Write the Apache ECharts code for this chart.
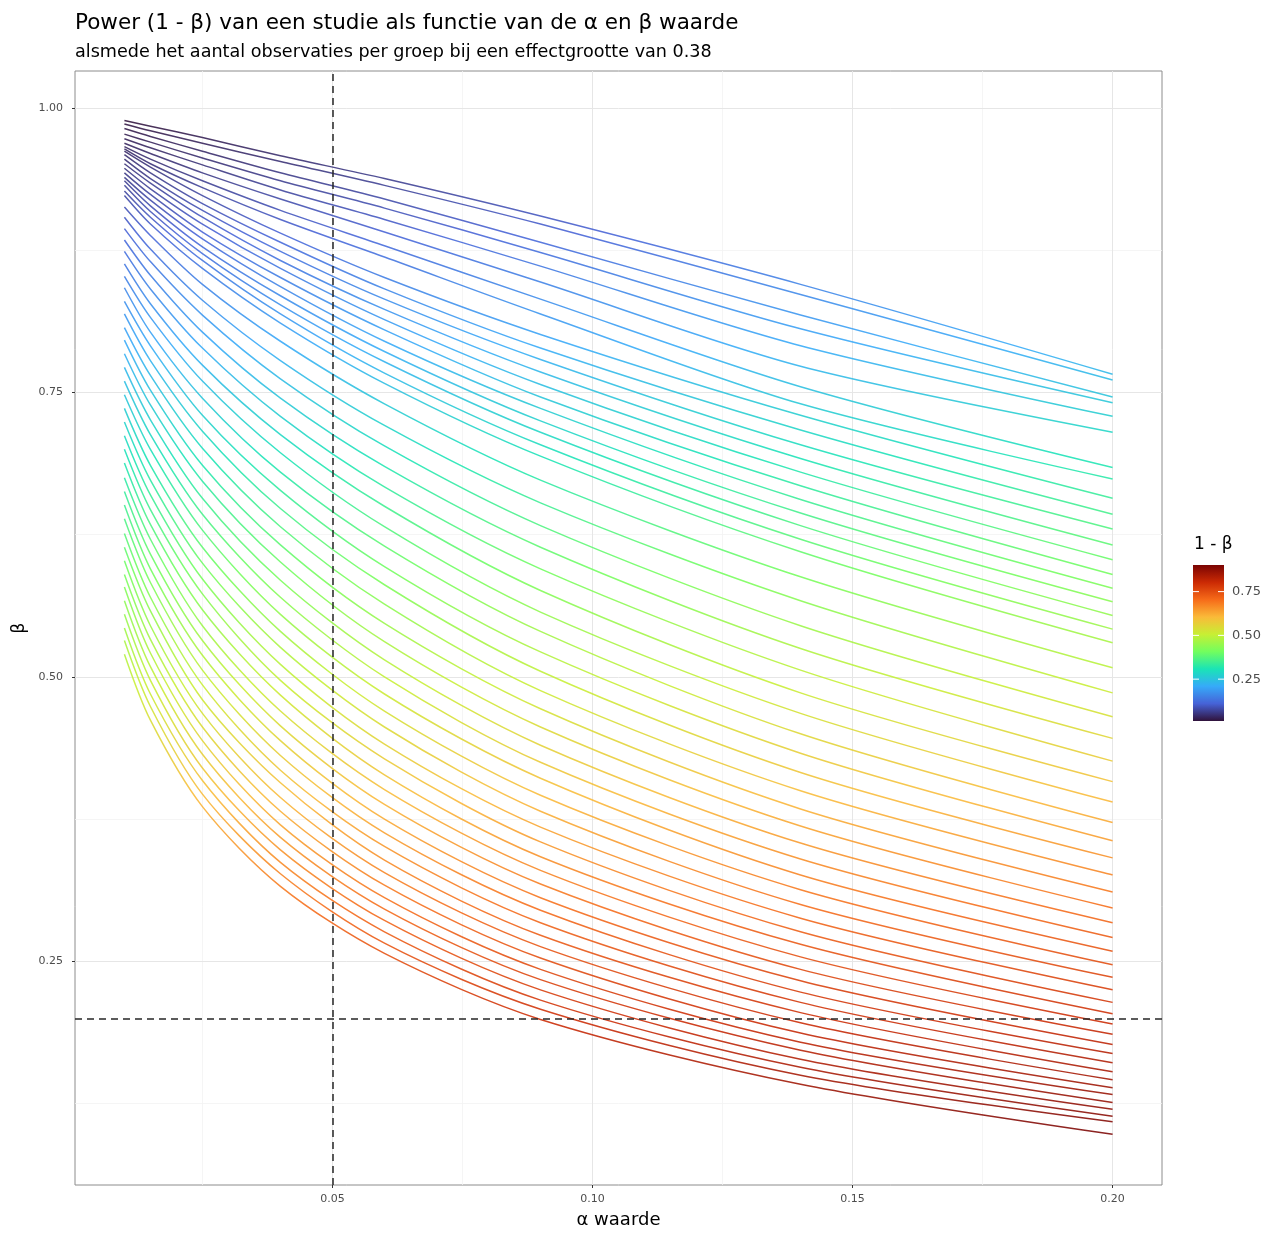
<!DOCTYPE html>
<html><head><meta charset="utf-8">
<script src="https://cdn.jsdelivr.net/npm/echarts@6/dist/echarts.min.js"></script>
<style>html,body{margin:0;padding:0;background:#fff}#chart{width:1280px;height:1234px}</style>
</head><body><div id="chart"></div>
<script>
// ---- data ----
const alphaValues = [0.01, 0.015, 0.025, 0.04, 0.06, 0.09, 0.14, 0.20];
const groupSizes = [2,3,4,5,6,7,8,9,10,11,12,13,14,15,16,17,18,19,20,22,24,26,28,30,32,34,36,38,40,42,44,46,48,50,52,54,56,58,60,62,64,66,68,70,72,74,76,78,80,82,84,86,88,90];
const b02 = [.989,.984,.974,.958,.938,.905,.845,.766];
const b03 = [.986,.980,.969,.953,.932,.898,.836,.761];
const b04 = [.982,.975,.962,.943,.920,.882,.818,.746];
const b05 = [.977,.970,.956,.936,.912,.873,.806,.741];
const b06 = [.973,.965,.950,.928,.902,.861,.791,.729];
const b07 = [.969,.960,.943,.920,.891,.847,.773,.715];
const b08 = [.966,.955,.936,.910,.879,.832,.755,.684];
const b09 = [.964,.951,.930,.902,.869,.819,.740,.674];
const b10 = [.962,.948,.923,.890,.851,.801,.730,.657];
const b11 = [.959,.943,.916,.882,.841,.789,.717,.643];
const b12 = [.955,.938,.910,.874,.832,.779,.704,.630];
const b13 = [.951,.934,.904,.866,.823,.768,.692,.616];
const b14 = [.947,.929,.898,.859,.814,.757,.680,.603];
const b15 = [.943,.924,.891,.851,.805,.746,.668,.590];
const b16 = [.939,.919,.885,.843,.795,.736,.656,.578];
const b17 = [.936,.914,.878,.835,.786,.725,.644,.566];
const b18 = [.932,.909,.872,.827,.777,.715,.633,.554];
const b19 = [.927,.904,.866,.819,.767,.704,.621,.542];
const b20 = [.923,.898,.859,.811,.758,.694,.610,.530];
const b22 = [.913,.888,.845,.795,.740,.673,.588,.508];
const b24 = [.904,.876,.831,.778,.721,.653,.567,.486];
const b26 = [.894,.865,.818,.762,.703,.633,.545,.465];
const b28 = [.884,.853,.803,.745,.685,.614,.525,.446];
const b30 = [.874,.841,.789,.729,.667,.595,.506,.426];
const b32 = [.863,.828,.774,.713,.650,.576,.486,.408];
const b34 = [.852,.816,.760,.697,.632,.557,.468,.390];
const b36 = [.842,.803,.745,.680,.615,.540,.450,.372];
const b38 = [.830,.791,.730,.664,.597,.522,.433,.356];
const b40 = [.819,.778,.716,.648,.581,.505,.416,.341];
const b42 = [.807,.765,.701,.632,.564,.488,.400,.326];
const b44 = [.796,.752,.686,.616,.547,.472,.384,.311];
const b46 = [.784,.739,.672,.601,.531,.456,.369,.297];
const b48 = [.772,.726,.657,.585,.515,.440,.354,.284];
const b50 = [.760,.713,.643,.570,.500,.425,.340,.271];
const b52 = [.748,.700,.629,.555,.485,.411,.326,.259];
const b54 = [.736,.686,.614,.540,.470,.396,.313,.247];
const b56 = [.724,.673,.600,.526,.456,.382,.300,.236];
const b58 = [.712,.660,.586,.511,.441,.368,.288,.225];
const b60 = [.700,.647,.573,.497,.428,.355,.276,.214];
const b62 = [.688,.634,.559,.484,.414,.342,.265,.204];
const b64 = [.675,.621,.545,.470,.401,.330,.254,.195];
const b66 = [.663,.608,.532,.457,.388,.318,.243,.186];
const b68 = [.651,.595,.519,.444,.375,.306,.233,.177];
const b70 = [.639,.583,.506,.431,.363,.295,.223,.169];
const b72 = [.626,.570,.493,.418,.351,.284,.214,.161];
const b74 = [.614,.558,.480,.407,.339,.273,.205,.153];
const b76 = [.602,.545,.468,.394,.328,.263,.196,.146];
const b78 = [.590,.533,.456,.382,.317,.253,.187,.139];
const b80 = [.579,.521,.444,.370,.306,.243,.179,.133];
const b82 = [.567,.509,.432,.359,.296,.234,.172,.126];
const b84 = [.555,.497,.420,.348,.286,.225,.164,.120];
const b86 = [.543,.485,.409,.337,.276,.216,.157,.114];
const b88 = [.532,.474,.397,.327,.266,.208,.150,.109];
const b90 = [.520,.462,.386,.316,.257,.199,.142,.098];
const betaLines = [b02,b03,b04,b05,b06,b07,b08,b09,b10,b11,b12,b13,b14,b15,b16,b17,b18,b19,b20,b22,b24,b26,b28,b30,b32,b34,b36,b38,b40,b42,b44,b46,b48,b50,b52,b54,b56,b58,b60,b62,b64,b66,b68,b70,b72,b74,b76,b78,b80,b82,b84,b86,b88,b90];

const xTicks = [0.05, 0.10, 0.15, 0.20];
const xMinorTicks = [0.025, 0.075, 0.125, 0.175];
const yTicks = [0.25, 0.50, 0.75, 1.00];
const yMinorTicks = [0.125, 0.375, 0.625, 0.875];
const alphaRef = 0.05;
const betaRef = 0.20;
const legendTicks = [0.25, 0.50, 0.75];
const turbo = ['#30123B','#4662D7','#36AAF9','#1AE4B6','#72FE5E','#C7EF34','#FABA39','#F66B19','#CB2A04','#7A0403'];

// ---- chart ----
const FONT = "'DejaVu Sans', 'Liberation Sans', Arial, sans-serif";
const chart = echarts.init(document.getElementById('chart'));

let betaMin = Infinity, betaMax = -Infinity;
betaLines.forEach(a => a.forEach(v => { betaMin = Math.min(betaMin, v); betaMax = Math.max(betaMax, v); }));

const lineSeries = betaLines.map((arr, i) => ({
  type: 'line', name: 'n=' + groupSizes[i],
  data: alphaValues.map((a, j) => [a, arr[j]]),
  showSymbol: false, symbol: 'none', silent: true,
  smooth: 0.3,
  lineStyle: { width: 1.5, opacity: 0.88, join: 'round' },
  z: 3
}));

const majorGrid = { color: '#e6e6e6', width: 1, type: 'solid' };
const minorGrid = { color: '#f2f2f2', width: 0.8, type: 'solid' };
const gridSeries = {
  type: 'line', data: [], silent: true, z: 1,
  markLine: {
    z: 1, silent: true, precision: 4, symbol: ['none', 'none'], label: { show: false }, animation: false,
    data: [
      ...xMinorTicks.map(v => ({ xAxis: v, lineStyle: minorGrid })),
      ...yMinorTicks.map(v => ({ yAxis: v, lineStyle: minorGrid })),
      ...xTicks.map(v => ({ xAxis: v, lineStyle: majorGrid })),
      ...yTicks.map(v => ({ yAxis: v, lineStyle: majorGrid }))
    ]
  }
};
const refSeries = {
  type: 'line', data: [], silent: true, z: 10,
  markLine: {
    z: 10, silent: true, precision: 4, symbol: ['none', 'none'], label: { show: false }, animation: false,
    lineStyle: { color: '#262626', width: 1.5, type: [7, 5] },
    data: [{ xAxis: alphaRef }, { yAxis: betaRef }]
  }
};

// colour bar legend (1 - beta)
const powerMin = 1 - betaMax, powerMax = 1 - betaMin;
const barX = 1193, barTop = 565, barH = 156, barW = 31;
const barY = v => barTop + barH - (v - powerMin) / (powerMax - powerMin) * barH;
const legendGraphics = [
  { type: 'text', left: 1194, top: 536, style: { text: '1 - β', font: '17px ' + FONT, fill: '#000' } },
  { type: 'rect', shape: { x: barX, y: barTop, width: barW, height: barH },
    style: { fill: new echarts.graphic.LinearGradient(0, 1, 0, 0,
      turbo.map((c, i) => ({ offset: i / (turbo.length - 1), color: c }))) } }
];
legendTicks.forEach(v => {
  const y = barY(v);
  legendGraphics.push({ type: 'line', shape: { x1: barX, y1: y, x2: barX + 6, y2: y }, style: { stroke: '#fff', lineWidth: 1 } });
  legendGraphics.push({ type: 'line', shape: { x1: barX + barW - 6, y1: y, x2: barX + barW, y2: y }, style: { stroke: '#fff', lineWidth: 1 } });
  legendGraphics.push({ type: 'text', x: barX + barW + 8, y: y, style: { text: v.toFixed(2), font: '13px ' + FONT, fill: '#4d4d4d', verticalAlign: 'middle' } });
});

chart.setOption({
  animation: false,
  backgroundColor: '#fff',
  title: {
    text: 'Power (1 - β) van een studie als functie van de α en β waarde',
    subtext: 'alsmede het aantal observaties per groep bij een effectgrootte van 0.38',
    left: 70, top: 7, itemGap: 9,
    textStyle: { fontFamily: FONT, fontSize: 21.5, fontWeight: 'normal', color: '#000' },
    subtextStyle: { fontFamily: FONT, fontSize: 17.6, color: '#000' }
  },
  grid: { left: 75, right: 118, top: 71, bottom: 47, show: true, borderColor: '#8c8c8c', borderWidth: 1, backgroundColor: 'transparent' },
  xAxis: {
    type: 'value', min: 0.0005, max: 0.2095,
    name: 'α waarde', nameLocation: 'middle', nameGap: 26,
    nameTextStyle: { fontFamily: FONT, fontSize: 18, color: '#000' },
    axisLine: { show: false }, splitLine: { show: false },
    axisTick: { show: true, customValues: xTicks, length: 3, lineStyle: { color: '#333' } },
    axisLabel: { customValues: xTicks, formatter: v => v.toFixed(2), fontFamily: FONT, fontSize: 11, color: '#4d4d4d', margin: 9 }
  },
  yAxis: {
    type: 'value', min: 0.0535, max: 1.0325,
    name: 'β', nameLocation: 'middle', nameGap: 43, nameRotate: 90,
    nameTextStyle: { fontFamily: FONT, fontSize: 17, color: '#000' },
    axisLine: { show: false }, splitLine: { show: false },
    axisTick: { show: true, customValues: yTicks, length: 3, lineStyle: { color: '#333' } },
    axisLabel: { customValues: yTicks, formatter: v => v.toFixed(2), fontFamily: FONT, fontSize: 11, color: '#4d4d4d', margin: 12 }
  },
  visualMap: {
    type: 'continuous', show: false, dimension: 1,
    min: betaMin, max: betaMax,
    seriesIndex: lineSeries.map((s, i) => i),
    inRange: { color: turbo.slice().reverse() }
  },
  series: [...lineSeries, gridSeries, refSeries],
  graphic: legendGraphics
});
</script></body></html>
